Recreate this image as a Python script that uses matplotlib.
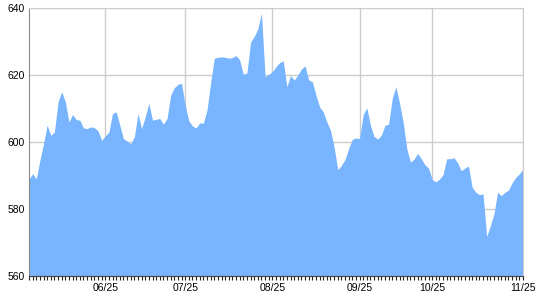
import matplotlib
matplotlib.use("Agg")
import matplotlib.pyplot as plt
import numpy as np

plt.rcParams["font.family"] = ["Liberation Sans", "DejaVu Sans"]

# daily values, one per trading day
values = [
    589.0, 590.5, 589.0, 594.5, 599.5, 605.0, 602.0, 603.0, 612.0, 615.0,
    612.0, 606.0, 608.2, 606.7, 606.5, 604.2, 604.0, 604.5, 604.3, 603.3,
    600.5, 601.8, 603.0, 608.5, 609.0, 605.0, 601.0, 600.3, 599.5, 601.5,
    608.5, 604.0, 607.5, 611.5, 606.5, 606.8, 607.0, 605.3, 607.0, 614.0,
    616.2, 617.2, 617.5, 611.0, 606.3, 604.8, 604.2, 605.7, 605.6, 609.5,
    617.6, 625.0, 625.3, 625.4, 625.3, 625.0, 625.2, 625.8, 624.5, 620.2,
    620.6, 629.8, 631.5, 633.8, 638.4, 619.5, 620.2, 621.0, 622.5, 623.7,
    624.2, 616.5, 619.8, 618.5, 620.0, 621.8, 622.7, 618.5, 618.0, 614.0,
    610.5, 609.0, 606.0, 603.5, 598.5, 591.7, 593.0, 594.8, 598.0, 600.8,
    601.2, 601.0, 608.2, 610.2, 605.0, 601.6, 600.9, 602.0, 605.0, 605.3,
    613.0, 616.5, 611.6, 606.0, 598.0, 594.0, 594.9, 596.6, 595.0, 593.2,
    592.2, 588.8, 588.1, 588.9, 590.3, 595.0, 595.0, 595.3, 593.8, 591.4,
    592.2, 592.8, 586.5, 585.0, 584.3, 584.5, 571.8, 575.0, 578.5, 585.0,
    584.0, 585.0, 585.6, 587.8, 589.4, 590.5, 591.9,
]
label_idx = [21, 43, 67, 91, 111, 136]
labels = ["06/25", "07/25", "08/25", "09/25", "10/25", "11/25"]
yticks = [560, 580, 600, 620, 640]

x = np.arange(len(values))

fig = plt.figure(figsize=(5.4, 3.0), dpi=100)
ax = fig.add_axes([29 / 540, 24 / 300, 494 / 540, 268 / 300])

ax.fill_between(x, values, 560, color="#78b4ff", lw=0, zorder=2)

ax.set_xlim(0, len(values) - 1)
ax.set_ylim(560, 640)
ax.set_yticks(yticks)
ax.set_xticks(label_idx)
ax.set_xticklabels(labels)
ax.set_xticks(x, minor=True)

ax.grid(True, color="#cccccc", lw=1, zorder=0)
ax.set_axisbelow(True)

ax.tick_params(axis="y", length=0, pad=3, labelsize=7.5)
ax.tick_params(axis="x", which="both", length=3, width=0.8, direction="out",
               color="#222222", labelsize=7.5, pad=2)

for s in ["top", "right"]:
    ax.spines[s].set_color("#cccccc")
ax.spines["left"].set_color("#888888")
ax.spines["bottom"].set_color("#444444")

fig.savefig("out.png", dpi=100)
